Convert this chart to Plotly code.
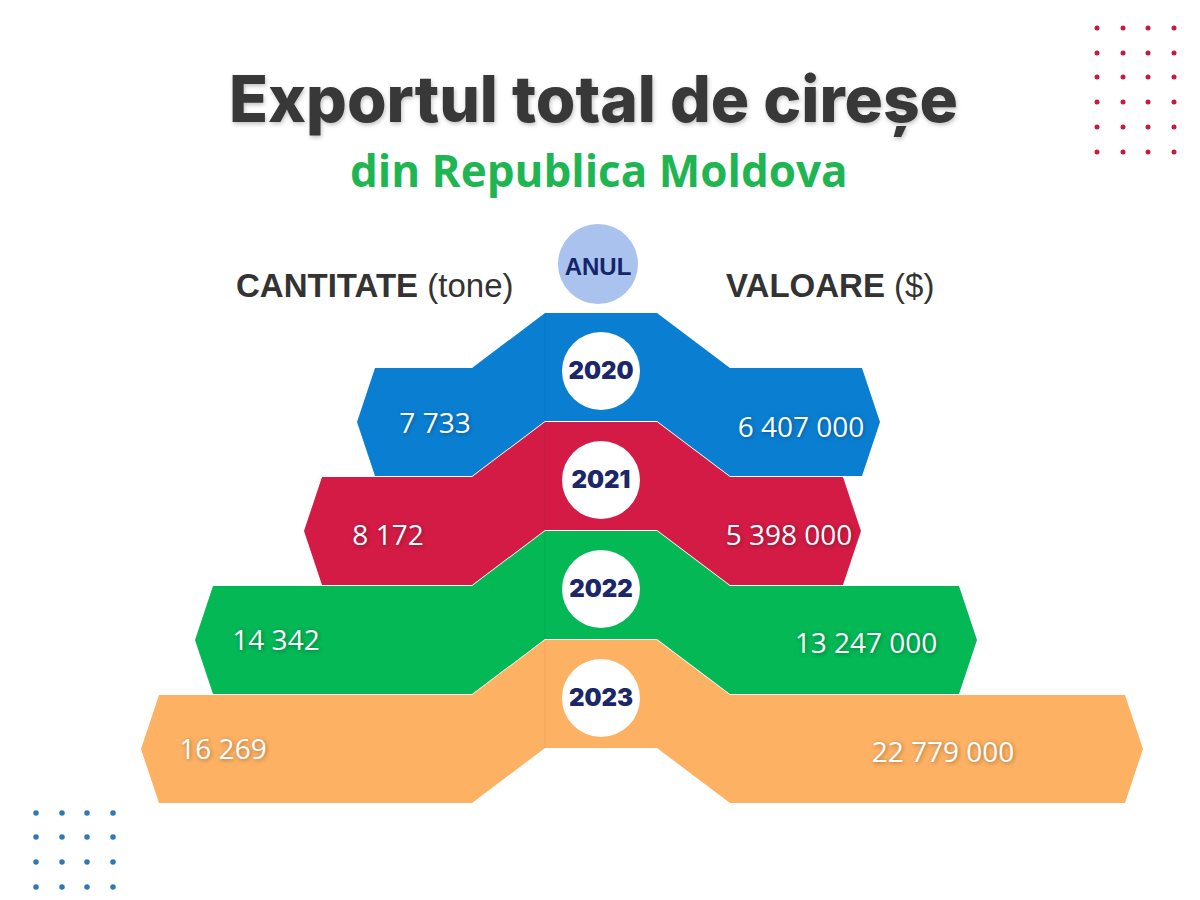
import plotly.graph_objects as go

years = [2020, 2021, 2022, 2023]
cantitate = [7733, 8172, 14342, 16269]          # tone
valoare = [6407000, 5398000, 13247000, 22779000]  # USD

band_colors = ['#0a7fd2', '#d31b45', '#03b855', '#fdb163']

# layout geometry of the stepped bands (page pixels, y down)
band_top = [313, 422, 531, 640]
left_edge = [375, 322, 213, 159]
right_edge = [862, 843, 959, 1125]
left_lbl_x = [435, 388, 276, 223]
left_lbl_y = [423, 535, 640, 749]
right_lbl_x = [801, 789, 866, 943]
right_lbl_y = [427, 535, 643, 752]
cx0, cx1 = 545, 657      # central column
drop, h, slope, tip = 55, 108, 73, 18
off = 8                  # page body margin, so data units == page pixels


def fmt(v):
    return f"{v:,}".replace(",", " ")


fig = go.Figure()

for i, yr in enumerate(years):
    t = band_top[i]
    L, R = left_edge[i], right_edge[i]
    xs = [cx0, cx1, cx1 + slope, R, R + tip, R, cx1 + slope, cx1, cx0,
          cx0 - slope, L, L - tip, L, cx0 - slope, cx0]
    ys = [t, t, t + drop, t + drop, t + drop + h / 2, t + drop + h, t + drop + h,
          t + h, t + h, t + drop + h, t + drop + h, t + drop + h / 2, t + drop,
          t + drop, t]
    fig.add_trace(go.Scatter(x=xs, y=ys, mode='lines', fill='toself',
                             fillcolor=band_colors[i], line=dict(width=0),
                             hoverinfo='skip', showlegend=False))
    # faint seam of the central column
    fig.add_trace(go.Scatter(x=[cx0, cx0], y=[t, t + h], mode='lines',
                             line=dict(color='rgba(0,0,0,0.06)', width=1),
                             hoverinfo='skip', showlegend=False))

# year circles
circ_x = (cx0 + cx1) / 2
circ_y = [t + 58 for t in band_top]
fig.add_trace(go.Scatter(x=[circ_x] * 4, y=circ_y, mode='markers',
                         marker=dict(size=78, color='white', line=dict(width=0)),
                         hoverinfo='skip', showlegend=False))
fig.add_trace(go.Scatter(x=[circ_x] * 4, y=[y + 2 for y in circ_y], mode='text',
                         text=[str(y) for y in years],
                         textfont=dict(family='Inter', size=24, color='#1b2768',
                                       weight=900),
                         hoverinfo='skip', showlegend=False))

# ANUL circle
fig.add_trace(go.Scatter(x=[598], y=[264], mode='markers',
                         marker=dict(size=80, color='#a9c3ee', line=dict(width=0)),
                         hoverinfo='skip', showlegend=False))
fig.add_trace(go.Scatter(x=[598], y=[269], mode='text', text=['ANUL'],
                         textfont=dict(family='Liberation Sans', size=24,
                                       color='#16246a', weight=700),
                         hoverinfo='skip', showlegend=False))

# value labels
val_font = dict(family='Open Sans', size=28, color='white',
                shadow='1px 1px 4px rgba(0,0,0,0.35)')
fig.add_trace(go.Scatter(x=left_lbl_x, y=[y + 3 for y in left_lbl_y],
                         mode='text', text=[fmt(v) for v in cantitate],
                         textfont=val_font, hoverinfo='skip', showlegend=False))
fig.add_trace(go.Scatter(x=right_lbl_x, y=[y + 3 for y in right_lbl_y],
                         mode='text', text=[fmt(v) for v in valoare],
                         textfont=val_font, hoverinfo='skip', showlegend=False))

# decorative dot grids
red_dx = [1097, 1123, 1148, 1174]
red_dy = [28, 53, 77, 102, 127, 152]
blue_dx = [36, 62, 87, 113]
blue_dy = [813, 837, 862, 887]
fig.add_trace(go.Scatter(x=[x for y in red_dy for x in red_dx],
                         y=[y for y in red_dy for x in red_dx], mode='markers',
                         marker=dict(size=5, color='#c8193f'),
                         hoverinfo='skip', showlegend=False))
fig.add_trace(go.Scatter(x=[x for y in blue_dy for x in blue_dx],
                         y=[y for y in blue_dy for x in blue_dx], mode='markers',
                         marker=dict(size=5.5, color='#2f78b7'),
                         hoverinfo='skip', showlegend=False))

annotations = [
    dict(x=593, y=99, text='Exportul total de cireșe',
         font=dict(family='Inter', size=64, color='#383838', weight=800,
                   shadow='1px 2px 4px rgba(0,0,0,0.25)')),
    dict(x=599, y=170, text='din Republica Moldova',
         font=dict(family='Open Sans', size=44, color='#1fb553', weight=700)),
    dict(x=374, y=285, text='<b>CANTITATE</b> (tone)',
         font=dict(family='Liberation Sans', size=33, color='#333333')),
    dict(x=830, y=285, text='<b>VALOARE</b> ($)',
         font=dict(family='Liberation Sans', size=33, color='#333333')),
]
for a in annotations:
    a.update(xref='x', yref='y', showarrow=False, xanchor='center', yanchor='middle')

fig.update_layout(
    width=1200, height=900,
    margin=dict(l=0, r=0, t=0, b=0),
    paper_bgcolor='white', plot_bgcolor='white',
    xaxis=dict(range=[off, 1200 + off], visible=False, fixedrange=True),
    yaxis=dict(range=[900 + off, off], visible=False, fixedrange=True),
    annotations=annotations,
    showlegend=False,
)

fig.write_html("out.html")
